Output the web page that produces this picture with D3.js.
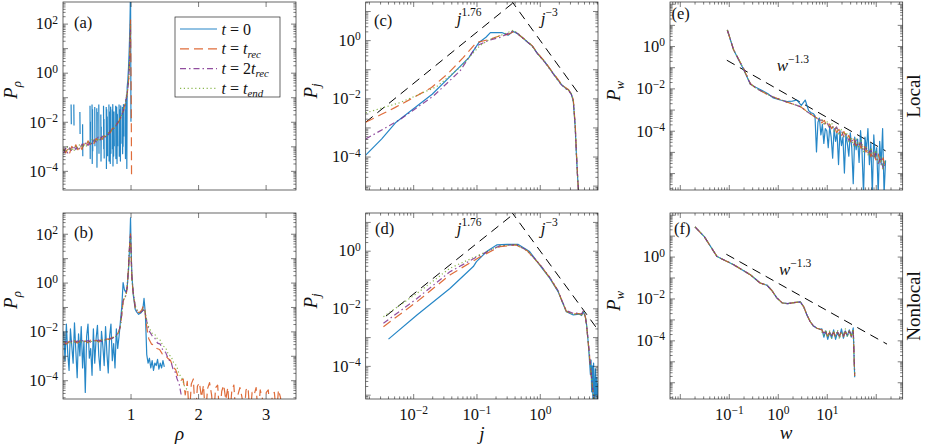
<!DOCTYPE html>
<html>
<head>
<meta charset="utf-8">
<script src="https://cdn.jsdelivr.net/npm/d3@7"></script>
<style>
  body { margin: 0; background: #fff; }
  svg text { font-family: 'Liberation Serif', 'DejaVu Serif', serif; fill: #111; }
</style>
</head>
<body>
<svg id="chart" width="926" height="448"></svg>
<script>
// ---- data (P values stored as log10) ----

// (a) local, density distribution P_rho
const aRho = [0.01,0.04,0.07,0.10,0.13,0.16,0.19,0.22,0.25,0.28,0.31,0.34,0.37,0.40,0.43,0.46,0.49,0.52,0.55,0.58,0.61,0.64,0.67,0.70,0.73,0.76,0.79,0.82,0.85,0.88,0.90,0.92,0.94,0.95,0.96,0.97,0.98,0.99,0.995,1.0]
const aRecLogP = [-3.10,-3.27,-3.09,-3.27,-3.00,-3.13,-2.94,-3.14,-2.97,-3.13,-2.87,-2.98,-2.78,-2.93,-2.79,-2.88,-2.68,-2.76,-2.61,-2.72,-2.57,-2.62,-2.44,-2.45,-2.27,-2.26,-2.08,-2.04,-1.83,-1.68,-1.47,-1.30,-1.00,-0.87,-0.63,-0.35,0.10,0.85,1.45,2.15]
const aRecPeakRho = [1.005, 1.01, 1.015]
const aRecPeakLogP = [0.5, -1.0, -4.2]
const a2RecLogP = [-3.28,-3.08,-3.27,-3.06,-3.19,-2.97,-3.13,-2.99,-3.13,-2.91,-3.01,-2.82,-2.97,-2.79,-2.92,-2.73,-2.82,-2.63,-2.74,-2.59,-2.69,-2.52,-2.53,-2.35,-2.36,-2.19,-2.15,-1.97,-1.88,-1.64,-1.52,-1.26,-1.03,-0.84,-0.65,-0.35,0.10,0.85,1.45,2.05]
const aEndLogP = [-3.14,-3.23,-3.00,-3.18,-3.05,-3.21,-2.98,-3.08,-2.90,-3.06,-2.90,-3.03,-2.84,-2.91,-2.73,-2.81,-2.70,-2.80,-2.65,-2.70,-2.56,-2.59,-2.44,-2.44,-2.29,-2.26,-2.09,-2.02,-1.84,-1.68,-1.49,-1.29,-1.01,-0.85,-0.65,-0.35,0.10,0.85,1.45,2.00]
// t = 0 is a sparse histogram: null marks an empty bin
const aT0Rho = [0.120,0.123,0.126,0.160,0.163,0.166,0.250,0.253,0.256,0.290,0.293,0.296,0.400,0.403,0.406,0.409,0.430,0.433,0.437,0.440,0.443,0.470,0.473,0.476,0.500,0.503,0.507,0.510,0.530,0.533,0.536,0.560,0.563,0.567,0.570,0.600,0.603,0.607,0.610,0.613,0.640,0.643,0.647,0.650,0.655,0.660,0.663,0.680,0.683,0.687,0.690,0.695,0.700,0.705,0.710,0.713,0.730,0.733,0.737,0.740,0.745,0.750,0.755,0.760,0.763,0.780,0.783,0.787,0.790,0.795,0.800,0.805,0.810,0.813,0.830,0.833,0.837,0.840,0.845,0.850,0.855,0.860,0.863,0.880,0.883,0.887,0.890,0.895,0.900,0.903,0.920,0.925,0.930,0.935,0.940,0.945,0.950,0.960,0.970,0.980,0.990,0.995,1.000,1.003,1.006]
const aT0LogP = [-1.30,-2.10,null,-1.30,-2.15,null,-1.60,-2.50,null,-2.10,-3.40,null,-1.35,-3.50,-2.00,null,-1.30,-3.70,-1.50,-3.20,null,-1.40,-3.00,null,-1.45,-3.85,-1.60,null,-1.30,-3.30,null,-1.70,-3.60,-2.20,null,-1.35,-3.10,-1.90,-3.50,null,-1.40,-3.90,-1.50,-3.00,-1.80,-3.40,null,-1.30,-3.60,-1.60,-3.20,-2.00,-3.70,-1.40,-3.30,null,-1.50,-3.10,-1.30,-3.80,-2.10,-3.40,-1.60,-3.00,null,-1.35,-3.50,-1.80,-3.20,-1.40,-3.70,-1.70,-3.00,null,-1.30,-3.40,-1.50,-3.10,-1.90,-3.60,-1.35,-2.90,null,-1.40,-3.30,-1.60,-3.00,-1.30,-2.60,null,-1.50,-3.50,-1.10,-2.40,-0.90,-3.90,-0.60,-0.30,0.20,0.90,1.80,2.60,3.50,1.00,-2.00]

// (b) nonlocal, density distribution P_rho
const bRho = [0.01,0.05,0.09,0.13,0.17,0.21,0.25,0.29,0.33,0.37,0.41,0.45,0.49,0.53,0.57,0.61,0.65,0.69,0.73,0.77,0.80,0.83,0.85,0.87,0.89,0.91,0.93,0.95,0.97,0.98,0.99,1.0,1.01,1.02,1.04,1.07,1.10,1.14,1.17,1.19,1.21,1.23,1.25]
const bRecLogP = [-2.42,-2.52,-2.41,-2.50,-2.38,-2.48,-2.38,-2.49,-2.39,-2.47,-2.36,-2.44,-2.36,-2.44,-2.34,-2.40,-2.31,-2.34,-2.24,-2.24,-2.15,-1.98,-1.80,-1.30,-0.78,-0.62,-0.57,-0.22,0.62,1.18,1.70,2.00,1.10,0.15,-0.45,-1.05,-1.22,-1.22,-1.10,-0.95,-1.05,-1.60,-2.00]
const bRecTailRho = [1.27,1.31,1.35,1.39,1.43,1.47,1.51,1.55,1.59,1.63,1.67,1.71,1.75]
const bRecTailLogP = [-2.30,-2.52,-2.56,-2.70,-2.74,-2.92,-2.95,-3.10,-3.18,-3.45,-3.58,-3.90,-4.00]
const bRecNoiseRho = [1.78,1.81,1.84,1.87,1.90,1.93,1.96,1.99,2.02,2.05,2.08,2.11,2.14,2.17,2.20,2.23,2.26,2.29,2.32,2.35,2.38,2.41,2.44,2.47,2.50,2.53,2.56,2.59,2.62,2.65,2.68,2.71,2.74,2.77,2.80,2.83,2.86,2.89,2.92,2.95,2.98,3.01,3.04,3.07,3.10,3.13,3.16,3.19,3.22,3.25]
const bRecNoiseLogP = [-3.95,-4.60,-4.05,-5.50,-4.15,-3.95,-5.50,-4.25,-4.10,-4.70,-4.20,-5.50,-4.35,-4.10,-4.60,-5.50,-4.30,-4.20,-5.50,-4.45,-4.20,-4.80,-4.30,-5.50,-4.40,-4.20,-5.50,-4.60,-4.30,-4.70,-5.50,-4.40,-4.30,-5.50,-4.50,-4.60,-4.30,-5.50,-4.40,-4.70,-5.50,-4.50,-4.40,-5.50,-4.60,-4.50,-5.50,-4.40,-4.70,-5.50]
const b2RecLogP = [-2.50,-2.42,-2.49,-2.40,-2.47,-2.39,-2.46,-2.38,-2.45,-2.37,-2.44,-2.36,-2.43,-2.35,-2.41,-2.33,-2.37,-2.29,-2.29,-2.20,-2.13,-1.96,-1.78,-1.28,-0.74,-0.59,-0.54,-0.19,0.66,1.21,1.71,1.90,1.05,0.22,-0.38,-0.98,-1.18,-1.24,-1.18,-1.12,-1.16,-1.42,-1.75]
const b2RecTailRho = [1.28,1.32,1.36,1.40,1.44,1.48,1.52,1.56,1.60,1.63,1.66,1.69,1.72,1.75]
const b2RecTailLogP = [-2.00,-2.18,-2.28,-2.48,-2.52,-2.78,-2.86,-3.14,-3.26,-3.55,-3.66,-3.95,-4.15,-4.60]
const bEndLogP = [-2.45,-2.49,-2.44,-2.47,-2.43,-2.48,-2.40,-2.46,-2.39,-2.45,-2.40,-2.43,-2.37,-2.42,-2.36,-2.39,-2.32,-2.33,-2.26,-2.23,-2.16,-1.99,-1.81,-1.32,-0.76,-0.61,-0.56,-0.21,0.64,1.19,1.69,1.85,1.00,0.18,-0.40,-0.95,-1.15,-1.22,-1.16,-1.10,-1.14,-1.40,-1.70]
const bEndTailRho = [1.28,1.32,1.36,1.40,1.44,1.48,1.52,1.56,1.60,1.64,1.68,1.72,1.76,1.80,1.84]
const bEndTailLogP = [-1.88,-2.08,-2.12,-2.32,-2.36,-2.60,-2.66,-2.95,-3.02,-3.30,-3.40,-3.75,-3.90,-4.25,-4.40]
const bT0Rho = [0.01,0.03,0.05,0.07,0.09,0.11,0.13,0.15,0.17,0.19,0.21,0.23,0.25,0.27,0.29,0.31,0.33,0.35,0.37,0.39,0.41,0.43,0.45,0.47,0.49,0.51,0.53,0.55,0.57,0.59,0.61,0.63,0.65,0.67,0.69,0.71,0.73,0.75,0.77,0.79,0.81,0.83,0.85,0.87,0.89,0.91,0.93,0.95,0.97,0.99,1.0,1.01,1.02,1.04,1.07,1.09,1.12,1.15,1.18,1.20,1.22,1.24,1.26,1.28,1.30,1.32,1.34,1.36,1.38,1.40,1.42,1.44,1.46,1.48,1.50]
const bT0LogP = [-2.0,-3.2,-1.7,-2.9,-3.6,-1.9,-2.6,-3.3,-1.65,-2.8,-3.9,-2.1,-3.0,-1.8,-3.5,-2.4,-4.5,-2.2,-1.7,-3.1,-2.7,-3.8,-1.9,-3.3,-2.3,-1.75,-3.0,-3.6,-2.0,-2.6,-3.4,-1.8,-2.9,-3.7,-2.2,-1.7,-3.2,-2.5,-3.5,-1.9,-2.7,-2.2,-1.6,-1.0,0.0,-0.3,-0.4,-0.2,0.5,1.7,2.65,1.2,0.3,-0.5,-1.1,-1.2,-1.3,-1.25,-1.15,-0.65,-1.3,-2.95,-3.3,-3.1,-3.5,-3.2,-3.6,-3.3,-3.4,-3.15,-3.55,-3.3,-3.5,-3.2,-3.45]

// (c) local, P_j (log10 j, log10 P)
const cT0LogJ = [-2.75,-2.5,-2.28,-2.0,-1.7,-1.4,-1.12,-0.96,-0.85,-0.78,-0.6,-0.5,-0.42,-0.35,-0.24,-0.12,-0.03,0.08,0.18,0.27,0.34,0.41,0.45,0.5,0.53,0.56,0.58,0.6,0.62]
const cT0LogP = [-3.95,-3.4,-2.84,-2.37,-1.86,-1.21,-0.6,-0.08,0.1,0.26,0.26,0.17,0.3,0.22,0.02,-0.2,-0.48,-0.75,-1.05,-1.32,-1.52,-1.66,-1.7,-1.86,-2.1,-3.0,-4.0,-4.8,-5.4]
const cRecLogJ = [-2.75,-2.5,-2.29,-2.0,-1.71,-1.45,-1.21,-1.0,-0.8,-0.63,-0.5,-0.42,-0.35,-0.24,-0.12,-0.03,0.08,0.18,0.27,0.34,0.41,0.45,0.5,0.53,0.56,0.58,0.6,0.62]
const cRecLogP = [-2.82,-2.55,-2.32,-1.98,-1.63,-1.15,-0.6,-0.08,0.02,0.15,0.2,0.28,0.22,0.03,-0.19,-0.46,-0.74,-1.04,-1.3,-1.5,-1.64,-1.7,-1.85,-2.05,-2.9,-3.9,-4.8,-5.4]
const c2RecLogJ = [-2.75,-2.21,-1.68,-1.26,-1.0,-0.8,-0.63,-0.42,-0.35,-0.24,-0.12,-0.03,0.08,0.18,0.27,0.34,0.41,0.45,0.5,0.53,0.56,0.58,0.6,0.62]
const c2RecLogP = [-3.4,-2.73,-1.92,-1.06,-0.2,0.0,0.09,0.32,0.23,0.02,-0.21,-0.48,-0.76,-1.06,-1.33,-1.53,-1.67,-1.72,-1.87,-2.1,-2.95,-3.95,-4.8,-5.4]
const cEndLogJ = [-2.75,-2.21,-1.63,-1.26,-0.95,-0.8,-0.63,-0.42,-0.35,-0.24,-0.12,-0.03,0.08,0.18,0.27,0.34,0.41,0.45,0.5,0.53,0.56,0.58,0.6,0.62]
const cEndLogP = [-2.5,-2.15,-1.6,-0.94,-0.2,0.02,0.15,0.34,0.24,0.03,-0.2,-0.47,-0.75,-1.05,-1.31,-1.51,-1.65,-1.69,-1.84,-2.08,-2.95,-3.95,-4.8,-5.4]
const cUpLogJ = [-2.75, -0.36], cUpLogP = [-2.82, 1.39]
const cDownLogJ = [-0.46, 0.605], cDownLogP = [1.39, -1.81]

// (d) nonlocal, P_j
const dT0LogJ = [-2.39,-1.94,-1.42,-1.05,-1.0,-0.84,-0.68,-0.52,-0.34,-0.16,0.0,0.16,0.29,0.35,0.42,0.53,0.62,0.66,0.69,0.72,0.74,0.77,0.79,0.8,0.81,0.82,0.83,0.84,0.85,0.86,0.87,0.88,0.89,0.9,0.91,0.92]
const dT0LogP = [-3.07,-2.23,-1.31,-0.55,-0.38,-0.03,0.2,0.22,0.22,-0.03,-0.5,-0.96,-1.42,-1.75,-2.12,-2.23,-2.2,-2.25,-2.12,-2.3,-2.58,-3.3,-3.97,-4.3,-3.8,-4.9,-4.0,-5.3,-3.9,-4.6,-5.4,-4.1,-5.0,-4.4,-5.4,-4.6]
const dBandLogJ = [-2.47,-1.94,-1.42,-0.94,-0.63,-0.37,-0.2,0.0,0.16,0.29,0.35,0.42,0.53,0.62,0.66,0.69,0.72,0.74,0.77,0.8,0.83,0.86]
const dRecLogP = [-2.64,-1.77,-0.84,-0.21,0.14,0.2,0.0,-0.48,-0.94,-1.4,-1.74,-2.1,-2.2,-2.18,-2.22,-2.1,-2.3,-2.6,-3.3,-4.0,-4.7,-5.3]
const d2RecLogP = [-2.52,-1.66,-0.73,-0.15,0.17,0.21,0.01,-0.47,-0.93,-1.39,-1.73,-2.08,-2.18,-2.16,-2.2,-2.08,-2.28,-2.58,-3.25,-3.95,-4.65,-5.3]
const dEndLogP = [-2.29,-1.48,-0.61,-0.13,0.17,0.21,0.0,-0.49,-0.95,-1.41,-1.75,-2.11,-2.21,-2.19,-2.23,-2.11,-2.31,-2.6,-3.3,-4.0,-4.7,-5.3]
const dUpLogJ = [-2.43, -0.36], dUpLogP = [-2.27, 1.37]
const dDownLogJ = [-0.46, 0.95], dDownLogP = [1.39, -2.84]

// (e) local, P_w
const eHeadLogW = [-1.03,-0.9,-0.8,-0.7,-0.56,-0.45,-0.36,-0.2,-0.09,0.05,0.19,0.32,0.46,0.6,0.73,0.86]
const eHeadLogP = [0.76,-0.19,-0.62,-1.06,-1.78,-1.98,-2.1,-2.3,-2.41,-2.53,-2.65,-2.75,-2.86,-3.1,-3.3,-3.5]
const eTailLogW = [0.9,0.95,1.0,1.05,1.1,1.15,1.2,1.25,1.3,1.35,1.4,1.45,1.5,1.55,1.6,1.65,1.7,1.75,1.8,1.85,1.9,1.95,2.0,2.05,2.1,2.15,2.2]
const eRecTailLogP = [-3.63,-3.51,-3.80,-3.68,-3.90,-3.75,-4.09,-3.94,-4.22,-4.04,-4.36,-4.22,-4.58,-4.40,-4.71,-4.49,-4.83,-4.61,-5.01,-4.82,-5.22,-4.94,-5.38,-5.10,-5.55,-5.28,-5.78]
const e2RecTailLogP = [-3.50,-3.68,-3.60,-3.84,-3.74,-3.96,-3.82,-4.09,-4.00,-4.31,-4.18,-4.46,-4.32,-4.65,-4.45,-4.74,-4.56,-4.97,-4.76,-5.10,-4.88,-5.30,-5.08,-5.55,-5.25,-5.80,-5.48]
const eEndTailLogP = [-3.45,-3.73,-3.53,-3.82,-3.62,-4.02,-3.84,-4.22,-3.94,-4.28,-4.06,-4.52,-4.30,-4.72,-4.39,-4.76,-4.46,-4.99,-4.71,-5.19,-4.80,-5.28,-4.92,-5.52,-5.20,-5.80,-5.33]
const eT0LogW = [-1.03,-0.9,-0.8,-0.7,-0.56,-0.45,-0.36,-0.2,-0.09,0.05,0.19,0.3,0.39,0.48,0.56,0.63,0.68,0.73]
const eT0LogP = [0.76,-0.19,-0.65,-1.1,-1.8,-1.95,-2.05,-2.25,-2.45,-2.55,-2.62,-2.6,-2.55,-2.8,-2.55,-3.05,-3.15,-3.2]
const eT0TailLogW = [0.76,0.79,0.82,0.85,0.88,0.91,0.94,0.97,1.00,1.03,1.06,1.09,1.12,1.15,1.18,1.21,1.24,1.27,1.30,1.33,1.36,1.39,1.42,1.45,1.48,1.51,1.54,1.57,1.60,1.63,1.66,1.69,1.72,1.75,1.78,1.81,1.84,1.87,1.90,1.93,1.96,1.99,2.02,2.05,2.08,2.11,2.14,2.17,2.20]
const eT0TailLogP = [-3.3,-5.0,-3.6,-3.4,-4.2,-3.7,-4.6,-3.9,-4.0,-4.8,-3.8,-4.3,-5.3,-3.9,-4.5,-4.1,-5.6,-4.0,-4.7,-4.3,-6.0,-4.2,-4.6,-5.2,-4.1,-4.8,-6.5,-4.3,-4.9,-4.4,-5.5,-4.0,-5.0,-7.0,-4.3,-4.9,-3.9,-5.6,-4.6,-7.0,-4.2,-5.3,-4.8,-7.0,-4.5,-5.6,-3.9,-7.0,-5.4]
const eFitLogW = [-1.04, 2.2], eFitLogP = [-0.67, -4.95]

// (f) nonlocal, P_w
const fHeadLogW = [-1.69,-1.5,-1.24,-0.9,-0.56,-0.36,-0.22,-0.12,-0.02,0.09,0.2,0.33,0.46,0.53,0.59,0.66,0.73,0.8,0.86]
const fHeadLogP = [1.42,0.95,0.0,-0.39,-0.87,-1.26,-1.37,-1.62,-1.97,-2.21,-2.25,-2.2,-2.16,-2.4,-2.76,-3.1,-3.32,-3.42,-3.47]
const fTailLogW = [0.9,0.94,0.98,1.02,1.06,1.1,1.14,1.18,1.22,1.26,1.3,1.34,1.38,1.42,1.46,1.5,1.54,1.56,1.57]
const fT0TailLogP = [-3.45,-3.85,-3.55,-3.95,-3.6,-3.9,-3.5,-3.95,-3.6,-3.85,-3.45,-3.9,-3.55,-3.8,-3.5,-3.85,-3.4,-5.0,-5.76]
const fRecTailLogP = [-3.5,-3.7,-3.6,-3.8,-3.62,-3.82,-3.6,-3.85,-3.62,-3.8,-3.58,-3.82,-3.6,-3.78,-3.55,-3.8,-3.5,-5.0,-5.7]
const f2RecTailLogP = [-3.55,-3.65,-3.58,-3.75,-3.6,-3.78,-3.62,-3.8,-3.6,-3.78,-3.58,-3.75,-3.55,-3.75,-3.55,-3.72,-3.5,-4.9,-5.6]
const fEndTailLogP = [-3.6,-3.75,-3.5,-3.85,-3.55,-3.9,-3.6,-3.8,-3.5,-3.95,-3.6,-3.75,-3.45,-3.85,-3.55,-3.8,-3.45,-5.0,-5.7]
const fFitLogW = [-1.05, 2.23], fFitLogP = [0.11, -4.18]

// ---- styles & layout ----
const styles = {
  t0: { color: '#0072BD', dash: null },
  rec: { color: '#D95319', dash: '9,5' },
  rec2: { color: '#7E2F8E', dash: '6,3,1.5,3' },
  end: { color: '#77AC30', dash: '1.2,2.6' },
  fit: { color: '#000', dash: '9,6' },
}
const legendItems = [
  { key: 't0', label: [['t', 'i'], [' = ', ''], ['0', '']] },
  { key: 'rec', label: [['t', 'i'], [' = ', ''], ['t', 'i'], ['rec', 'sub']] },
  { key: 'rec2', label: [['t', 'i'], [' = 2', ''], ['t', 'i'], ['rec', 'sub']] },
  { key: 'end', label: [['t', 'i'], [' = ', ''], ['t', 'i'], ['end', 'sub']] },
]

const cols = [[63, 296], [365.7, 598], [670, 902.7]]
const rows = [[2, 190], [213, 399]]
const ink = '#262626'

const svg = d3.select('#chart')
const defs = svg.append('defs')

function decades([lo, hi]) {
  return d3.range(Math.ceil(lo), Math.floor(hi) + 1).map(e => 10 ** e)
}

function minors([lo, hi]) {
  const out = []
  for (let e = Math.floor(lo); e <= Math.ceil(hi); e++) {
    for (let k = 2; k <= 9; k++) {
      const l = Math.log10(k) + e
      if (l >= lo && l <= hi) out.push(10 ** l)
    }
  }
  return out
}

// turn a placeholder tick label into 10^n with a raised exponent
function powerLabel(sel) {
  sel.each(function (d) {
    const t = d3.select(this)
    if (!t.text()) return
    const e = Math.round(Math.log10(d))
    t.text(null)
    t.append('tspan').text('10')
    t.append('tspan').attr('dy', '-0.5em').attr('font-size', 11.5).text(e < 0 ? '\u2212' + -e : String(e))
  })
}

function panel(opt) {
  const [x0, x1] = cols[opt.col]
  const [y0, y1] = rows[opt.row]
  const x = (opt.xLog
    ? d3.scaleLog().domain(opt.xDomain.map(e => 10 ** e))
    : d3.scaleLinear().domain(opt.xDomain)).range([x0, x1])
  const y = d3.scaleLog().domain(opt.yDomain.map(e => 10 ** e)).range([y1, y0])

  defs.append('clipPath').attr('id', 'clip-' + opt.id)
    .append('rect').attr('x', x0).attr('y', y0).attr('width', x1 - x0).attr('height', y1 - y0)

  const g = svg.append('g').attr('class', 'panel-' + opt.id)
  const plot = g.append('g').attr('clip-path', `url(#clip-${opt.id})`)

  const line = d3.line()
    .defined(d => d[1] != null)
    .x(d => x(d[0]))
    .y(d => y(d[1]))

  opt.series.forEach(s => {
    const st = styles[s.key]
    const pts = d3.zip(s.xs, s.ys).map(([a, b]) => [opt.xLog ? 10 ** a : a, b == null ? null : 10 ** b])
    plot.append('path')
      .datum(pts)
      .attr('fill', 'none')
      .attr('stroke', st.color)
      .attr('stroke-width', s.key === 'fit' ? 1 : 1.2)
      .attr('stroke-opacity', s.key === 'fit' ? 1 : 0.85)
      .attr('stroke-dasharray', st.dash)
      .attr('stroke-linejoin', 'round')
      .attr('d', line)
  })

  // axes: ticks point inward on all four sides
  const place = (axis, tx, ty) => {
    const a = g.append('g').attr('transform', `translate(${tx},${ty})`).call(axis)
    a.select('.domain').remove()
    a.attr('font-size', 16.5)
    a.selectAll('line').attr('stroke', ink).attr('stroke-width', 0.6)
    return a
  }

  const yMaj = decades(opt.yDomain)
  const yMin = minors(opt.yDomain)
  const yFmt = v => opt.yLabels.includes(Math.round(Math.log10(v))) ? 'L' : ''
  place(d3.axisLeft(y).tickValues(yMaj).tickSize(-5).tickPadding(5).tickFormat(yFmt), x0, 0)
    .selectAll('.tick text').call(powerLabel)
  place(d3.axisLeft(y).tickValues(yMin).tickSize(-2.6).tickFormat(''), x0, 0)
  place(d3.axisRight(y).tickValues(yMaj).tickSize(-5).tickFormat(''), x1, 0)
  place(d3.axisRight(y).tickValues(yMin).tickSize(-2.6).tickFormat(''), x1, 0)

  if (opt.xLog) {
    const xMaj = decades(opt.xDomain)
    const xMin = minors(opt.xDomain)
    const xFmt = v => (opt.xLabels || []).includes(Math.round(Math.log10(v))) ? 'L' : ''
    place(d3.axisBottom(x).tickValues(xMaj).tickSize(-5).tickPadding(9).tickFormat(xFmt), 0, y1)
      .selectAll('.tick text').call(powerLabel)
    place(d3.axisBottom(x).tickValues(xMin).tickSize(-2.6).tickFormat(''), 0, y1)
    place(d3.axisTop(x).tickValues(xMaj).tickSize(-5).tickFormat(''), 0, y0)
    place(d3.axisTop(x).tickValues(xMin).tickSize(-2.6).tickFormat(''), 0, y0)
  } else {
    place(d3.axisBottom(x).tickValues(opt.xTicks).tickSize(-5).tickPadding(9)
      .tickFormat(opt.xLabels ? d3.format('d') : ''), 0, y1)
    place(d3.axisTop(x).tickValues(opt.xTicks).tickSize(-5).tickFormat(''), 0, y0)
  }

  g.append('rect')
    .attr('x', x0).attr('y', y0).attr('width', x1 - x0).attr('height', y1 - y0)
    .attr('fill', 'none').attr('stroke', ink).attr('stroke-width', 0.7)

  // panel tag
  g.append('text').attr('x', opt.tag[0]).attr('y', opt.tag[1]).attr('font-size', 16.5).text(`(${opt.id})`)

  return { g, x, y }
}

const panels = [
  {
    id: 'a', col: 0, row: 0, tag: [74, 28],
    xDomain: [0, 3.45], xTicks: [1, 2, 3], xLabels: false,
    yDomain: [-4.78, 2.88], yLabels: [2, 0, -2, -4],
    series: [
      { key: 't0', xs: aT0Rho, ys: aT0LogP },
      { key: 'rec', xs: aRho.concat(aRecPeakRho), ys: aRecLogP.concat(aRecPeakLogP) },
      { key: 'rec2', xs: aRho, ys: a2RecLogP },
      { key: 'end', xs: aRho, ys: aEndLogP },
    ],
  },
  {
    id: 'b', col: 0, row: 1, tag: [74, 238],
    xDomain: [0, 3.45], xTicks: [1, 2, 3], xLabels: true,
    yDomain: [-4.77, 2.85], yLabels: [2, 0, -2, -4],
    series: [
      { key: 't0', xs: bT0Rho, ys: bT0LogP },
      { key: 'rec', xs: bRho.concat(bRecTailRho, bRecNoiseRho), ys: bRecLogP.concat(bRecTailLogP, bRecNoiseLogP) },
      { key: 'rec2', xs: bRho.concat(b2RecTailRho), ys: b2RecLogP.concat(b2RecTailLogP) },
      { key: 'end', xs: bRho.concat(bEndTailRho), ys: bEndLogP.concat(bEndTailLogP) },
    ],
  },
  {
    id: 'c', col: 1, row: 0, tag: [374, 26], xLog: true,
    xDomain: [-2.75, 0.92], yDomain: [-5.15, 1.31], yLabels: [0, -2, -4],
    series: [
      { key: 'fit', xs: cUpLogJ, ys: cUpLogP },
      { key: 'fit', xs: cDownLogJ, ys: cDownLogP },
      { key: 't0', xs: cT0LogJ, ys: cT0LogP },
      { key: 'rec', xs: cRecLogJ, ys: cRecLogP },
      { key: 'rec2', xs: c2RecLogJ, ys: c2RecLogP },
      { key: 'end', xs: cEndLogJ, ys: cEndLogP },
    ],
  },
  {
    id: 'd', col: 1, row: 1, tag: [375, 234], xLog: true, xLabels: [-2, -1, 0],
    xDomain: [-2.75, 0.92], yDomain: [-5.15, 1.31], yLabels: [0, -2, -4],
    series: [
      { key: 'fit', xs: dUpLogJ, ys: dUpLogP },
      { key: 'fit', xs: dDownLogJ, ys: dDownLogP },
      { key: 't0', xs: dT0LogJ, ys: dT0LogP },
      { key: 'rec', xs: dBandLogJ, ys: dRecLogP },
      { key: 'rec2', xs: dBandLogJ, ys: d2RecLogP },
      { key: 'end', xs: dBandLogJ, ys: dEndLogP },
    ],
  },
  {
    id: 'e', col: 2, row: 0, tag: [671.5, 19], xLog: true,
    xDomain: [-2.2, 2.55], yDomain: [-6.8, 2.08], yLabels: [0, -2, -4],
    series: [
      { key: 'fit', xs: eFitLogW, ys: eFitLogP },
      { key: 't0', xs: eT0LogW.concat(eT0TailLogW), ys: eT0LogP.concat(eT0TailLogP) },
      { key: 'rec', xs: eHeadLogW.concat(eTailLogW), ys: eHeadLogP.concat(eRecTailLogP) },
      { key: 'rec2', xs: eHeadLogW.concat(eTailLogW), ys: eHeadLogP.concat(e2RecTailLogP) },
      { key: 'end', xs: eHeadLogW.concat(eTailLogW), ys: eHeadLogP.concat(eEndTailLogP) },
    ],
  },
  {
    id: 'f', col: 2, row: 1, tag: [674, 234], xLog: true, xLabels: [-1, 0, 1],
    xDomain: [-2.2, 2.55], yDomain: [-6.8, 2.08], yLabels: [0, -2, -4],
    series: [
      { key: 'fit', xs: fFitLogW, ys: fFitLogP },
      { key: 't0', xs: fHeadLogW.concat(fTailLogW), ys: fHeadLogP.concat(fT0TailLogP) },
      { key: 'rec', xs: fHeadLogW.concat(fTailLogW), ys: fHeadLogP.concat(fRecTailLogP) },
      { key: 'rec2', xs: fHeadLogW.concat(fTailLogW), ys: fHeadLogP.concat(f2RecTailLogP) },
      { key: 'end', xs: fHeadLogW.concat(fTailLogW), ys: fHeadLogP.concat(fEndTailLogP) },
    ],
  },
]

panels.forEach(panel)

// ---- math-style text helpers ----
function mathText(parent, parts, size) {
  const t = parent.append('text').attr('font-size', size)
  parts.forEach(([s, kind]) => {
    const sp = t.append('tspan').text(s)
    if (kind === 'i') sp.attr('font-style', 'italic')
    if (kind === 'sub') sp.attr('font-style', 'italic').attr('font-size', size * 0.68).attr('dy', size * 0.2)
    if (kind === 'sup') sp.attr('font-size', size * 0.68).attr('dy', -size * 0.45)
  })
  return t
}

// y-axis labels
const yLabs = [[17, 90, '\u03c1'], [17, 300, '\u03c1'], [316.5, 91, 'j'], [316.5, 301, 'j'], [620, 91, 'w'], [620, 301, 'w']]
yLabs.forEach(([px, py, sub]) => {
  mathText(svg, [['P', 'i'], [sub, 'sub']], 19)
    .attr('text-anchor', 'middle')
    .attr('transform', `translate(${px},${py}) rotate(-90)`)
})

// x-axis labels
;[[179.5, 440, '\u03c1'], [482, 440, 'j'], [786, 439, 'w']].forEach(([px, py, s]) => {
  mathText(svg, [[s, 'i']], 19).attr('text-anchor', 'middle').attr('x', px).attr('y', py)
})

// power-law annotations
const notes = [
  [456.7, 24, 'j', '1.76'], [540.7, 24, 'j', '\u22123'],
  [456.7, 234, 'j', '1.76'], [540.7, 234, 'j', '\u22123'],
  [776.7, 71, 'w', '\u22121.3'], [779, 275, 'w', '\u22121.3'],
]
notes.forEach(([px, py, base, exp]) => {
  mathText(svg, [[base, 'i'], [exp, 'sup']], 17).attr('x', px).attr('y', py)
})

// row labels
;[[920, 96, 'Local'], [920, 306, 'Nonlocal']].forEach(([px, py, s]) => {
  svg.append('text').attr('font-size', 19).attr('text-anchor', 'middle')
    .attr('transform', `translate(${px},${py}) rotate(-90)`).text(s)
})

// legend
const leg = svg.append('g')
leg.append('rect').attr('x', 175).attr('y', 17).attr('width', 105).attr('height', 80)
  .attr('fill', '#fff').attr('stroke', ink).attr('stroke-width', 0.7)
legendItems.forEach((it, i) => {
  const ly = 29 + i * 19.8
  const st = styles[it.key]
  leg.append('line').attr('x1', 180).attr('x2', 217).attr('y1', ly).attr('y2', ly)
    .attr('stroke', st.color).attr('stroke-width', 1.2).attr('stroke-opacity', 0.85)
    .attr('stroke-dasharray', st.dash)
  mathText(leg, it.label, 16).attr('x', 221.5).attr('y', ly + 5.5)
})
</script>
</body>
</html>
